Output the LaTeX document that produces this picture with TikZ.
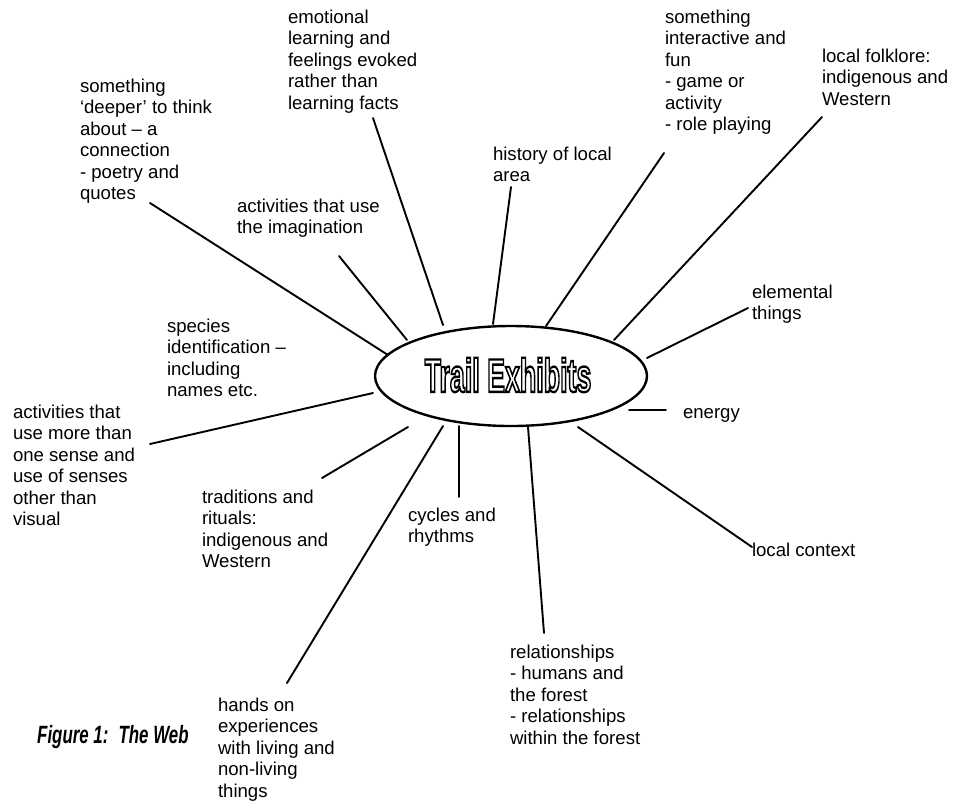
\documentclass[tikz,border=0pt]{standalone}
\usepackage{fontspec}
\setmainfont{Liberation Sans}
\usepackage{graphicx}
\usetikzlibrary{shapes.geometric}
\newcommand\outlinetext[1]{{\color{white}\special{pdf:literal direct 2 Tr 2.4 w 0 0 0 RG}#1\special{pdf:literal direct 0 Tr}}}
\begin{document}
\begin{tikzpicture}[x=1pt,y=-1pt,
  lbl/.style={anchor=north west, inner sep=0pt, outer sep=0pt, align=left,
              font=\fontsize{18.6}{21.5}\selectfont},
  spoke/.style={line width=1.9pt, line cap=round},
  hub/.style={draw, ellipse, line width=2.4pt, minimum width=272pt,
              minimum height=100pt, inner sep=0pt}]
\fill[white] (0,0) rectangle (960,801);
\useasboundingbox (0,0) rectangle (960,801);

% centre
\node[hub] (te) at (511,376) {};
\node (title) at (508,375) {\scalebox{0.57}[1]{\fontsize{47}{50}\selectfont\bfseries
  \outlinetext{Trail Exhibits}}};

% labels
\node[lbl] (deeper) at (80,77) {\strut something\\‘deeper’ to think\\about – a\\connection\\- poetry and\\quotes};
\node[lbl] (emotional) at (288,8) {\strut emotional\\learning and\\feelings evoked\\rather than\\learning facts};
\node[lbl] (interactive) at (665,8) {\strut something\\interactive and\\fun\\- game or\\activity\\- role playing};
\node[lbl] (folklore) at (822,47) {\strut local folklore:\\indigenous and\\Western};
\node[lbl] (history) at (493,145) {\strut history of local\\area};
\node[lbl] (imagination) at (237,197) {\strut activities that use\\the imagination};
\node[lbl] (elemental) at (752,283) {\strut elemental\\things};
\node[lbl] (species) at (167,317) {\strut species\\identification –\\including\\names etc.};
\node[lbl] (energy) at (683,403) {\strut energy};
\node[lbl] (senses) at (13,403) {\strut activities that\\use more than\\one sense and\\use of senses\\other than\\visual};
\node[lbl] (traditions) at (202,488) {\strut traditions and\\rituals:\\indigenous and\\Western};
\node[lbl] (cycles) at (408,506) {\strut cycles and\\rhythms};
\node[lbl] (localctx) at (752,541) {\strut local context};
\node[lbl] (relations) at (510,643) {\strut relationships\\- humans and\\the forest\\- relationships\\within the forest};
\node[lbl] (handson) at (218,696) {\strut hands on\\experiences\\with living and\\non-living\\things};

% caption
\node[anchor=west, inner sep=0pt] (caption) at (37,737)
  {\scalebox{0.675}[1]{\fontsize{25}{28}\selectfont\bfseries\itshape Figure 1:\hspace{0.6em}The Web}};

% connector end points
\coordinate (deeper-o) at (150,203);      \coordinate (deeper-i) at (388,355);
\coordinate (imag-o) at (339,256);        \coordinate (imag-i) at (407,340);
\coordinate (emo-o) at (373,118);         \coordinate (emo-i) at (443,325);
\coordinate (hist-o) at (511,187);        \coordinate (hist-i) at (493,324);
\coordinate (inter-o) at (664,153);       \coordinate (inter-i) at (546,326);
\coordinate (folk-o) at (822,117);        \coordinate (folk-i) at (614,340);
\coordinate (elem-o) at (748,308);        \coordinate (elem-i) at (647,358);
\coordinate (energy-o) at (666,410);      \coordinate (energy-i) at (629,410);
\coordinate (ctx-o) at (752,547);         \coordinate (ctx-i) at (578,427);
\coordinate (rel-o) at (544,633);         \coordinate (rel-i) at (528,427);
\coordinate (cyc-o) at (459,497);         \coordinate (cyc-i) at (459,426);
\coordinate (hands-o) at (287,683);       \coordinate (hands-i) at (443,426);
\coordinate (trad-o) at (322,478);        \coordinate (trad-i) at (408,427);
\coordinate (sens-o) at (150,444);        \coordinate (sens-i) at (373,393);

% connectors
\draw[spoke] (deeper-o) -- (deeper-i);
\draw[spoke] (imag-o) -- (imag-i);
\draw[spoke] (emo-o) -- (emo-i);
\draw[spoke] (hist-o) -- (hist-i);
\draw[spoke] (inter-o) -- (inter-i);
\draw[spoke] (folk-o) -- (folk-i);
\draw[spoke] (elem-o) -- (elem-i);
\draw[spoke] (energy-i) -- (energy-o);
\draw[spoke] (ctx-i) -- (ctx-o);
\draw[spoke] (rel-i) -- (rel-o);
\draw[spoke] (cyc-i) -- (cyc-o);
\draw[spoke] (hands-i) -- (hands-o);
\draw[spoke] (trad-i) -- (trad-o);
\draw[spoke] (sens-i) -- (sens-o);
\end{tikzpicture}
\end{document}
